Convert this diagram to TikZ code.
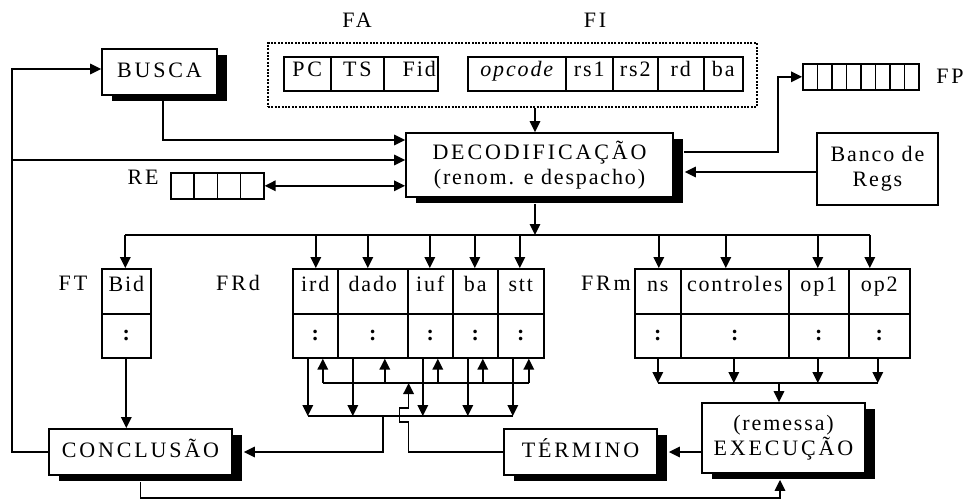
\documentclass[tikz,border=0pt]{standalone}
\usepackage{fontspec}
\setmainfont{Liberation Serif}
\newfontfamily\lsp[LetterSpace=8.5]{Liberation Serif}
\newfontfamily\csp[LetterSpace=13]{Liberation Serif}
\usetikzlibrary{arrows.meta,shadows}
\begin{document}
\begin{tikzpicture}[x=1pt,y=-1pt,
  every node/.style={font=\lsp\fontsize{22}{25}\selectfont, inner sep=0pt},
  caps/.style={font=\csp\fontsize{22}{25}\selectfont},
  box/.style={draw, line width=1.8pt, fill=white, align=center},
  shbox/.style={box, drop shadow={shadow xshift=10pt, shadow yshift=-5.5pt, fill=black, opacity=1}},
  onel/.style={text height=12pt, text depth=2pt},
  cell/.style={draw, line width=1.6pt, anchor=north west},
  fc/.style={cell, minimum height=34pt, text height=10pt, text depth=4pt},
  hd/.style={cell, minimum height=45pt, text height=7pt, text depth=7pt},
  bt/.style={cell, minimum height=44pt, font=\bfseries\fontsize{22}{25}\selectfont},
  ln/.style={line width=1.7pt},
  ar/.style={ln, -{Triangle[length=11pt,width=10.5pt]}},
  dar/.style={ln, {Triangle[length=11pt,width=10.5pt]}-{Triangle[length=11pt,width=10.5pt]}},
  dotbox/.style={draw, line width=1.8pt, dash pattern=on 2pt off 1.4pt},
]
\useasboundingbox (0,0) rectangle (967,499);

% top labels and instruction box
\node[caps] (fa) at (357,20) {FA};
\node[caps] (fi) at (595,20) {FI};
\node[dotbox, minimum width=489pt, minimum height=64pt] (instr) at (512.5,75) {};
\node[fc, caps, minimum width=47pt] (pc) at (283,56) {PC};
\node[fc, caps, minimum width=53pt] (ts) at (330,56) {TS};
\node[fc, minimum width=54pt, text width=50pt, align=right] (fid) at (383,56) {Fid};
\node[fc, minimum width=98pt] (opc) at (467,56) {\itshape opcode};
\node[fc, minimum width=47pt] (rsa) at (565,56) {rs1};
\node[fc, minimum width=45pt] (rsb) at (612,56) {rs2};
\node[fc, minimum width=46pt] (rd) at (657,56) {rd};
\node[fc, minimum width=39pt] (bai) at (703,56) {ba};

% FP queue
\foreach \i in {0,...,7} \node[cell, minimum width=14.5pt, minimum height=26pt] (fp\i) at ({802+14.5*\i},63) {};
\node[caps] (fpl) at (950,76) {FP};

% RE queue
\node[caps] (rel) at (143,177) {RE};
\foreach \i in {0,...,3} \node[cell, minimum width=23.25pt, minimum height=26pt] (re\i) at ({170+23.25*\i},172) {};

% main boxes
\node[shbox, caps, onel, minimum width=115pt, minimum height=46pt] (busca) at (159.5,72) {BUSCA};
\node[shbox, minimum width=267pt, minimum height=64pt] (decod) at (539.5,165) {{\csp DECODIFICAÇÃO}\\(renom. e despacho)};
\node[box, minimum width=121pt, minimum height=72pt] (banco) at (877.5,169) {Banco de\\Regs};
\node[shbox, caps, onel, minimum width=183pt, minimum height=46pt] (conc) at (140.5,452) {CONCLUSÃO};
\node[shbox, caps, onel, minimum width=153pt, minimum height=46pt] (term) at (580.5,452) {TÉRMINO};
\node[shbox, minimum width=163pt, minimum height=70pt] (exec) at (783.5,438) {(remessa)\\{\csp EXECUÇÃO}};

% table labels
\node[caps] (ftl) at (73,283) {FT};
\node[caps] (frdl) at (238,283) {FRd};
\node[caps] (frml) at (606,283) {FRm};

% FT
\node[hd, minimum width=49pt] (bid) at (101,268) {Bid};
\node[bt, minimum width=49pt] (bidb) at (101,313) {:};
% FRd
\node[hd, minimum width=45pt] (ird) at (292,268) {ird};
\node[hd, minimum width=70pt] (dado) at (337,268) {dado};
\node[hd, minimum width=45pt] (iuf) at (407,268) {iuf};
\node[hd, minimum width=45pt] (ba) at (452,268) {ba};
\node[hd, minimum width=46pt] (stt) at (497,268) {stt};
\node[bt, minimum width=45pt] (irdb) at (292,313) {:};
\node[bt, minimum width=70pt] (dadob) at (337,313) {:};
\node[bt, minimum width=45pt] (iufb) at (407,313) {:};
\node[bt, minimum width=45pt] (bab) at (452,313) {:};
\node[bt, minimum width=46pt] (sttb) at (497,313) {:};
% FRm
\node[hd, minimum width=46pt] (ns) at (634,268) {ns};
\node[hd, minimum width=108pt] (ctl) at (680,268) {controles};
\node[hd, minimum width=60pt] (opa) at (788,268) {op1};
\node[hd, minimum width=61pt] (opb) at (848,268) {op2};
\node[bt, minimum width=46pt] (nsb) at (634,313) {:};
\node[bt, minimum width=108pt] (ctlb) at (680,313) {:};
\node[bt, minimum width=60pt] (opab) at (788,313) {:};
\node[bt, minimum width=61pt] (opbb) at (848,313) {:};

% helper coordinates
\coordinate (x12) at (12,0);
\coordinate (x535) at (535,0);
\coordinate (x778) at (778,0);
\coordinate (x383) at (383,0);
\coordinate (busy) at (0,235);
\coordinate (lowy) at (0,416);
\coordinate (upy) at (0,383);

% left loop and inputs of decoding
\draw[ar] (conc.west) -- (conc.west -| x12) |- ([yshift=3pt]busca.west);
\coordinate (bsb) at ([xshift=3.5pt,yshift=-5pt]busca.south);
\draw[ar] (bsb) |- ([yshift=25pt]decod.west);
\coordinate (d160) at ([yshift=5pt]decod.west);
\draw[ar] (d160 -| x12) -- (d160);
\coordinate (d185) at ([yshift=-20pt]decod.west);
\draw[dar] (re3.east) -- (re3.east -| d185);
\draw[ar] (instr.south -| x535) -- (decod.north -| x535);
\coordinate (dfp) at ([xshift=10pt,yshift=13pt]decod.east);
\draw[ar] (dfp) -| (x778 |- fp0.west) -- (fp0.west);
\coordinate (d172) at ([xshift=11pt,yshift=-7pt]decod.east);
\draw[ar] (banco.west |- d172) -- (d172);

% dispatch bus
\coordinate (dsb) at ([yshift=-6pt]decod.south);
\draw[ar] (dsb -| x535) -- (x535 |- busy);
\foreach \n/\s in {bid/-1, ird/0.5, dado/-5, iuf/-0.5, ba/-0.5, stt/-1, ns/1, ctl/-9, opa/-1, opb/-9.5} {
  \coordinate (\n A) at ([xshift=\s pt]\n.north);
  \draw[ar] (\n A |- busy) -- (\n A);
}
\draw[ln] (bidA |- busy) -- (opbA |- busy);

% FRd bottom buses
\foreach \n/\s in {irdb/-7.5, dadob/-20, iufb/-7.5, bab/-7.5, sttb/-8} {
  \coordinate (\n D) at ([xshift=\s pt]\n.south);
  \draw[ar] (\n D) -- (\n D |- lowy);
}
\foreach \n/\s in {irdb/7.5, dadob/12, iufb/7.5, bab/7.5, sttb/8} {
  \coordinate (\n U) at ([xshift=\s pt]\n.south);
  \draw[ar] (\n U |- upy) -- (\n U);
}
\draw[ln] (irdbD |- lowy) -- (sttbD |- lowy);
\draw[ln] (irdbU |- upy) -- (sttbU |- upy);

% TERMINO back to FRd (with line hop)
\coordinate (jx) at (dadob.south east);
\draw[ar] (term.west) -- (term.west -| jx) -- ++(0,-30) -- ++(-9,0) -- ++(0,-14) -- ++(9,0) -- (jx |- upy);

% FRd to CONCLUSAO
\coordinate (concE) at ([xshift=11pt]conc.east);
\draw[ar] (x383 |- lowy) |- (concE);

% FRm bottom bus
\foreach \n/\s in {nsb/0, ctlb/-1, opab/-1, opbb/-1.5} {
  \coordinate (\n D) at ([xshift=\s pt]\n.south);
  \draw[ar] (\n D) -- (\n D |- upy);
}
\draw[ln] (nsbD |- upy) -- (opbbD |- upy);
\coordinate (eN) at ([xshift=-4.5pt]exec.north);
\draw[ar] (eN |- upy) -- (eN);

% EXECUCAO to TERMINO
\coordinate (termE) at ([xshift=11pt]term.east);
\draw[ar] (exec.west |- term.west) -- (termE);

% bottom loop
\coordinate (concB) at ([yshift=-6pt]conc.south);
\coordinate (execB) at ([xshift=-3.5pt,yshift=-6pt]exec.south);
\draw[ar] (concB) -- ++(0,16) -| (execB);

% FT to CONCLUSAO
\draw[ar] (bidb.south) -- (bidb.south |- conc.north);
\end{tikzpicture}
\end{document}
